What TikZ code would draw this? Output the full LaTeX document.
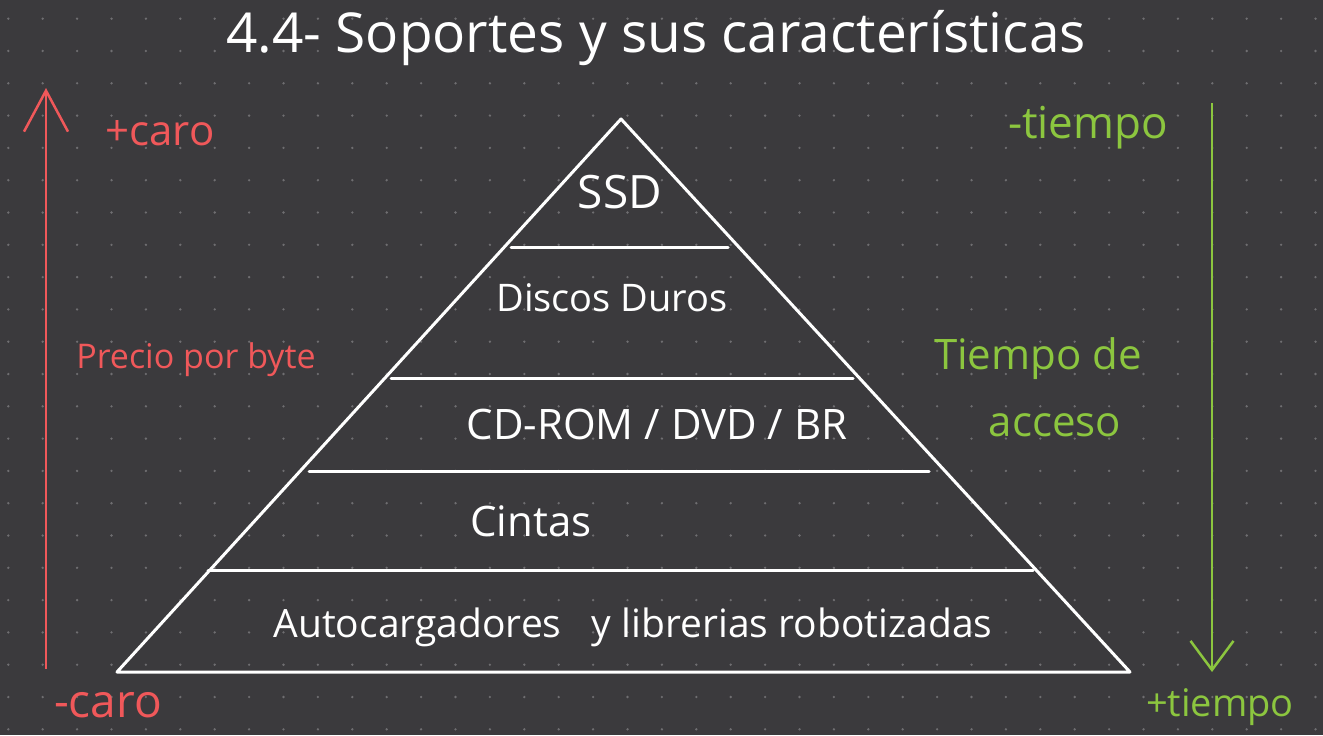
\documentclass[tikz,border=0pt]{standalone}
\usepackage{fontspec}
\setmainfont{Open Sans}
\usetikzlibrary{arrows.meta}
\definecolor{bg}{HTML}{3B3A3D}
\definecolor{dotc}{HTML}{6F6E71}
\definecolor{penred}{HTML}{F0585A}
\definecolor{pengreen}{HTML}{8CC63F}
\tikzset{
  lbl/.style={inner sep=0pt, anchor=center, font=\fontsize{#1bp}{#1bp}\selectfont},
  whitetxt/.style={lbl=#1, text=white},
  redtxt/.style={lbl=#1, text=penred},
  greentxt/.style={lbl=#1, text=pengreen},
  pyr/.style={draw=white, line width=3bp, line join=round, line cap=round},
}
\begin{document}
\begin{tikzpicture}[x=1bp, y=-1bp]
\fill[bg] (0,0) rectangle (1323,735);
\useasboundingbox (0,0) rectangle (1323,735);
% dot grid
\foreach \i in {0,...,38} {
  \foreach \j in {0,...,22} {
    \fill[dotc] ({8.3+34.4*\i},{18.7+32.3*\j}) circle (1.3);
  }
}
% title
\node[whitetxt=55] (title) at (656,38) {4.4- Soportes y sus características};
% pyramid
\coordinate (apex) at (621,119);
\coordinate (bl) at (117,672);
\coordinate (br) at (1130,672);
\draw[pyr] (apex) -- (br) -- (bl) -- cycle;
\coordinate (l1a) at (511,247); \coordinate (l1b) at (728,247);
\coordinate (l2a) at (391,378); \coordinate (l2b) at (853,378);
\coordinate (l3a) at (309,471); \coordinate (l3b) at (929,471);
\coordinate (l4a) at (208,570); \coordinate (l4b) at (1033,570);
\draw[pyr] (l1a) -- (l1b);
\draw[pyr] (l2a) -- (l2b);
\draw[pyr] (l3a) -- (l3b);
\draw[pyr] (l4a) -- (l4b);
\node[whitetxt=46] (ssd) at (620,192) {SSD};
\node[whitetxt=38] (hdd) at (612,298) {Discos Duros};
\node[whitetxt=42] (cd) at (657,424) {CD-ROM / DVD / BR};
\node[whitetxt=42] (cin) at (531,521) {Cintas};
\node[whitetxt=39] (auto) at (633,627) {Autocargadores \ \ y librerias robotizadas};
% red arrow
\coordinate (rbot) at (46,669);
\coordinate (rtop) at (46,88);
\draw[penred, line width=2.5bp, -{Straight Barb[length=41bp, width=44bp]}] (rbot) -- (rtop);
\node[redtxt=42] (mascaro) at (160,133) {+caro};
\node[redtxt=34] (precio) at (196,360) {Precio por byte};
\node[redtxt=46] (menoscaro) at (108,705) {-caro};
% green arrow
\coordinate (gtop) at (1212,103);
\coordinate (gbot) at (1212,672);
\draw[pengreen, line width=2.5bp, -{Straight Barb[length=29bp, width=43bp]}] (gtop) -- (gbot);
\node[greentxt=44] (menost) at (1088,128) {-tiempo};
\node[greentxt=42] (tiempode) at (1038,359) {Tiempo de};
\node[greentxt=42] (acceso) at (1055,425) {acceso};
\node[greentxt=38] (mast) at (1220,707) {+tiempo};
\end{tikzpicture}
\end{document}
